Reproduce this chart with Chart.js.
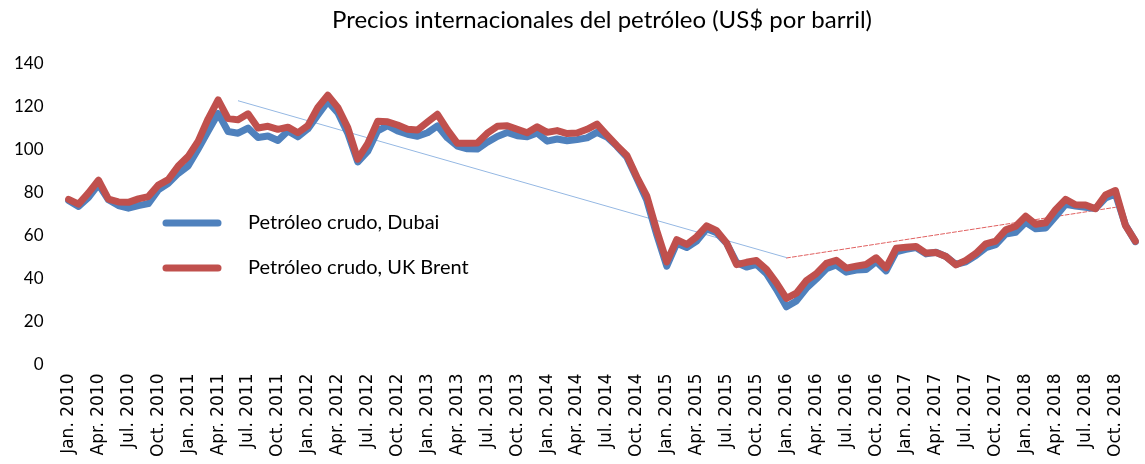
<!DOCTYPE html>
<html>
<head>
<meta charset="utf-8">
<script src="https://cdn.jsdelivr.net/npm/chart.js@4/dist/chart.umd.min.js"></script>
<style>
  html, body { margin: 0; padding: 0; background: #fff; }
  #chart { display: block; }
</style>
</head>
<body>
<canvas id="chart" width="1145" height="464"></canvas>
<script>
/* ============================================
   DATA
   ============================================ */
const monthNames = ['Jan.', 'Feb.', 'Mar.', 'Apr.', 'May.', 'Jun.', 'Jul.', 'Aug.', 'Sep.', 'Oct.', 'Nov.', 'Dec.'];
const years = [2010, 2011, 2012, 2013, 2014, 2015, 2016, 2017, 2018];

// Petróleo crudo, Dubai (US$ por barril), mensual ene. 2010 - dic. 2018
const dubai = [
    76.4, 73.6, 77.8, 83.9, 76.7, 74.0, 72.8, 74.0, 74.9, 81.3, 84.4, 89.0,
    92.5, 100.4, 108.7, 116.9, 108.5, 107.7, 110.1, 105.7, 106.4, 104.3, 108.7, 106.0,
    109.7, 116.2, 122.5, 117.3, 107.7, 94.3, 99.2, 108.8, 111.2, 108.7, 107.2, 106.3,
    107.9, 111.1, 105.5, 101.7, 100.4, 100.3, 103.5, 106.2, 108.0, 106.5, 106.0, 107.8,
    104.0, 105.0, 104.2, 104.7, 105.5, 108.1, 105.9, 101.6, 96.5, 86.6, 76.4, 60.3,
    45.8, 56.4, 54.5, 57.5, 63.2, 61.3, 56.4, 47.5, 45.4, 46.6, 42.3, 35.0,
    26.9, 29.6, 35.5, 39.8, 44.6, 46.3, 43.0, 44.0, 44.2, 48.0, 43.6, 52.5,
    53.6, 54.5, 51.5, 52.3, 50.3, 46.6, 47.8, 50.7, 54.4, 55.8, 60.8, 61.6,
    66.2, 63.2, 63.6, 68.9, 74.6, 73.8, 73.2, 72.6, 77.5, 79.4, 65.0, 57.2
];

// Petróleo crudo, UK Brent
const brent = [
    76.9, 74.7, 79.9, 85.8, 77.0, 75.7, 75.5, 77.1, 78.2, 83.5, 86.1, 92.4,
    96.9, 104.0, 114.4, 123.2, 114.5, 113.9, 116.7, 110.1, 110.9, 109.5, 110.5, 107.9,
    111.2, 119.7, 125.4, 119.7, 110.3, 95.6, 102.8, 113.2, 113.0, 111.5, 109.5, 109.2,
    112.9, 116.5, 109.2, 103.0, 103.0, 103.1, 107.7, 110.9, 111.2, 109.5, 107.9, 110.7,
    108.1, 108.9, 107.5, 107.8, 109.5, 111.9, 106.8, 101.9, 97.3, 87.3, 78.4, 62.3,
    47.8, 58.1, 55.9, 59.5, 64.6, 62.3, 56.6, 46.5, 47.6, 48.4, 44.3, 38.0,
    30.8, 33.2, 39.1, 42.3, 47.1, 48.5, 44.9, 45.8, 46.6, 49.7, 45.0, 54.1,
    54.6, 55.0, 51.9, 52.2, 50.3, 46.4, 48.5, 51.7, 56.2, 57.5, 62.7, 64.4,
    69.1, 65.3, 66.0, 72.1, 76.9, 74.4, 74.3, 72.5, 78.9, 81.0, 64.8, 57.4
];

// Tendencias: [índice de mes, valor]
const trendDown = [[17, 122.8], [72, 49.8]];
const trendUp = [[72, 49.6], [105, 73.2]];

const yTicks = [0, 20, 40, 60, 80, 100, 120, 140];

/* ============================================
   BUILD LABELS / SERIES
   ============================================ */
const labels = [];
years.forEach(y => monthNames.forEach(m => labels.push(m + ' ' + y)));

function trendSeries(points) {
    const arr = labels.map(() => null);
    points.forEach(([i, v]) => { arr[i] = v; });
    return arr;
}

/* ============================================
   IN-PLOT LEGEND
   ============================================ */
const inlineLegend = {
    id: 'inlineLegend',
    afterDraw(chart) {
        const ctx = chart.ctx;
        const items = chart.data.datasets
            .filter(d => d.legendRank !== undefined)
            .sort((a, b) => a.legendRank - b.legendRank);
        ctx.save();
        ctx.font = '20px Lato';
        ctx.fillStyle = '#000';
        ctx.textBaseline = 'middle';
        items.forEach((d, k) => {
            const y = 223 + k * 45;
            ctx.strokeStyle = d.borderColor;
            ctx.lineWidth = 7;
            ctx.lineCap = 'round';
            ctx.beginPath();
            ctx.moveTo(166, y);
            ctx.lineTo(218, y);
            ctx.stroke();
            ctx.fillText(d.label, 248, y);
        });
        ctx.restore();
    }
};

/* ============================================
   CHART
   ============================================ */
new Chart(document.getElementById('chart'), {
    type: 'line',
    data: {
        labels: labels,
        datasets: [
            {
                label: 'Petróleo crudo, UK Brent',
                data: brent,
                borderColor: '#C0504D',
                borderWidth: 7,
                order: 0,
                legendRank: 1
            },
            {
                label: 'Petróleo crudo, Dubai',
                data: dubai,
                borderColor: '#4F81BD',
                borderWidth: 7,
                order: 1,
                legendRank: 0
            },
            {
                label: 'trend1',
                data: trendSeries(trendDown),
                borderColor: '#95B8E3',
                borderWidth: 1,
                spanGaps: true,
                order: 3
            },
            {
                label: 'trend2',
                data: trendSeries(trendUp),
                borderColor: '#E06060',
                borderWidth: 1,
                borderDash: [4, 2],
                spanGaps: true,
                order: 3
            }
        ]
    },
    options: {
        responsive: false,
        animation: false,
        layout: { padding: { left: -11, right: -2, top: 0, bottom: -2 } },
        elements: {
            point: { radius: 0, hoverRadius: 0 },
            line: { tension: 0, borderJoinStyle: 'round', borderCapStyle: 'round' }
        },
        plugins: {
            legend: { display: false },
            tooltip: { enabled: false },
            title: {
                display: true,
                text: 'Precios internacionales del petróleo (US$ por barril)',
                color: '#000',
                font: { family: 'Lato', size: 24, weight: 'normal' },
                fullSize: false,
                padding: { top: 6, bottom: 29 }
            }
        },
        scales: {
            x: {
                grid: { display: false, drawTicks: false },
                border: { display: false },
                ticks: {
                    autoSkip: false,
                    maxRotation: 90,
                    minRotation: 90,
                    padding: 9,
                    color: '#000',
                    font: { family: 'DejaVu Sans', size: 17 },
                    callback: (v, i) => (i % 3 === 0 ? labels[i] : null)
                }
            },
            y: {
                min: 0,
                max: 140,
                afterBuildTicks: axis => { axis.ticks = yTicks.map(v => ({ value: v })); },
                grid: { display: false, drawTicks: false },
                border: { display: false },
                ticks: {
                    padding: 25,
                    color: '#000',
                    font: { family: 'Lato', size: 17 }
                }
            }
        }
    },
    plugins: [inlineLegend]
});
</script>
</body>
</html>
